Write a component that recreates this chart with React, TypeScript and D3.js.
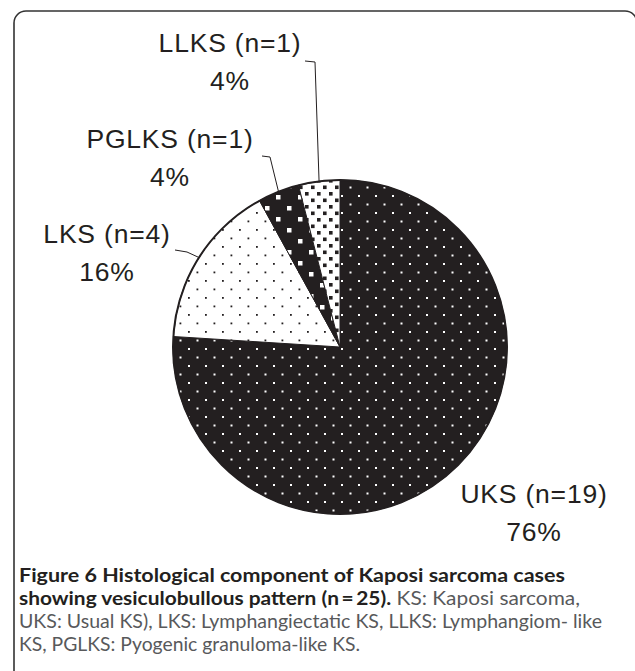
import React from 'react';
import * as d3 from 'd3';

const width = 635;
const height = 671;
const cx = 340;
const cy = 347;
const radius = 167;
const ink = '#231f20';

// data
const categories = ['UKS', 'LKS', 'PGLKS', 'LLKS'];
const counts = [19, 4, 1, 1];
const percents = ['76%', '16%', '4%', '4%'];

// where each label sits (layout only)
const labelPos: Record<string, { x: number; y: number; lead?: [number, number][] }> = {
  UKS: { x: 534, y: 503 },
  LKS: { x: 107, y: 243, lead: [[175, 250], [187, 252]] },
  PGLKS: { x: 170, y: 148, lead: [[262, 156], [270, 157]] },
  LLKS: { x: 230, y: 52, lead: [[305, 61], [315, 62]] },
};
const fills: Record<string, string> = {
  UKS: 'url(#pat-uks)',
  LKS: 'url(#pat-lks)',
  PGLKS: 'url(#pat-pglks)',
  LLKS: 'url(#pat-llks)',
};

const captionBold1 = 'Figure 6 Histological component of Kaposi sarcoma cases';
const captionBold2 = 'showing vesiculobullous pattern (n\u2009=\u200925).';
const captionRest2 = ' KS: Kaposi sarcoma,';
const captionLine3 = 'UKS: Usual KS), LKS: Lymphangiectatic KS, LLKS: Lymphangiom- like';
const captionLine4 = 'KS, PGLKS: Pyogenic granuloma-like KS.';

const slices = categories.map((c, i) => ({ cat: c, n: counts[i], pct: percents[i] }));

export default function App() {
  const pie = d3.pie<typeof slices[0]>().value(d => d.n).sort(null);
  const arcs = pie(slices);
  const arc = d3.arc<d3.PieArcDatum<typeof slices[0]>>().innerRadius(0).outerRadius(radius);
  const edge = d3.arc<d3.PieArcDatum<typeof slices[0]>>().innerRadius(radius).outerRadius(radius);
  const line = d3.line();

  return (
    <svg width={width} height={height} style={{ position: 'absolute', left: 0, top: 0, background: '#fff' }}
      fontFamily="'Liberation Sans', Arial, sans-serif">
      <defs>
        <pattern id="pat-uks" width={17} height={17} patternUnits="userSpaceOnUse">
          <rect width={17} height={17} fill={ink} />
          <rect x={1} y={1} width={2} height={2} fill="#fff" />
          <rect x={9.5} y={9.5} width={2} height={2} fill="#fff" />
        </pattern>
        <pattern id="pat-lks" width={17} height={17} patternUnits="userSpaceOnUse">
          <rect width={17} height={17} fill="#fff" />
          <rect x={1} y={1} width={1.8} height={1.8} fill={ink} />
          <rect x={9.5} y={9.5} width={1.8} height={1.8} fill={ink} />
        </pattern>
        <pattern id="pat-pglks" width={22} height={22} patternUnits="userSpaceOnUse">
          <rect width={22} height={22} fill={ink} />
          <rect x={2} y={2} width={4.5} height={4.5} fill="#fff" />
          <rect x={13} y={13} width={4.5} height={4.5} fill="#fff" />
        </pattern>
        <pattern id="pat-llks" width={12} height={13} patternUnits="userSpaceOnUse">
          <rect width={12} height={13} fill="#fff" />
          <rect x={1} y={1} width={3.6} height={3.6} fill={ink} />
          <rect x={7} y={7.5} width={3.6} height={3.6} fill={ink} />
        </pattern>
      </defs>

      {/* frame */}
      <rect x={14} y={11} width={623} height={700} rx={12} fill="none" stroke="#333" strokeWidth={1.6} />

      <g transform={`translate(${cx},${cy})`}>
        {arcs.map(a => (
          <path key={a.data.cat} d={arc(a) || ''} fill={fills[a.data.cat]} stroke={ink} strokeWidth={1} />
        ))}
        <circle r={radius} fill="none" stroke={ink} strokeWidth={2} />
      </g>

      {arcs.map(a => {
        const p = labelPos[a.data.cat];
        const [ex, ey] = edge.centroid(a);
        return (
          <g key={a.data.cat}>
            {p.lead && (
              <path d={line([...p.lead, [cx + ex, cy + ey]]) || ''} fill="none" stroke={ink} strokeWidth={1} />
            )}
            <text x={p.x} y={p.y} textAnchor="middle" fontSize={26.5} letterSpacing={0.8} fill={ink}>
              {`${a.data.cat} (n=${a.data.n})`}
            </text>
            <text x={p.x} y={p.y + 38} textAnchor="middle" fontSize={26.5} letterSpacing={0.8} fill={ink}>
              {a.data.pct}
            </text>
          </g>
        );
      })}

      <g fontFamily="Lato, 'Open Sans', sans-serif" fontSize={19}>
        <text x={19} y={582} fontWeight="bold" fill={ink} textLength={546} lengthAdjust="spacingAndGlyphs">
          {captionBold1}
        </text>
        <text x={19} y={605} textLength={561} lengthAdjust="spacingAndGlyphs">
          <tspan fontWeight="bold" fill={ink}>{captionBold2}</tspan>
          <tspan fill="#58595b">{captionRest2}</tspan>
        </text>
        <text x={19} y={628} fill="#58595b" textLength={583} lengthAdjust="spacingAndGlyphs">
          {captionLine3}
        </text>
        <text x={19} y={651} fill="#58595b" textLength={341} lengthAdjust="spacingAndGlyphs">
          {captionLine4}
        </text>
      </g>
    </svg>
  );
}
